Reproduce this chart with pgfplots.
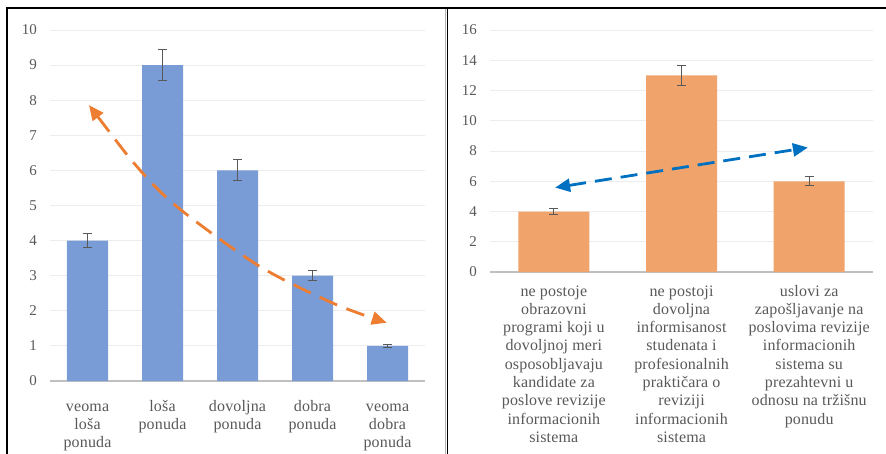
\documentclass[border=0pt]{standalone}
\usepackage{pgfplots}
\pgfplotsset{compat=1.18}
\usepackage{pgfplotstable}
\usepackage{fontspec}
\setmainfont{Liberation Serif}
\usetikzlibrary{arrows.meta}
\definecolor{barblue}{HTML}{7A9CD6}
\definecolor{barorange}{HTML}{F0A46C}
\definecolor{arrorange}{HTML}{ED7D31}
\definecolor{arrblue}{HTML}{0070C0}
\definecolor{txtgray}{HTML}{595959}
\definecolor{axgray}{HTML}{BFBFBF}
\definecolor{gridgray}{HTML}{EDEDED}

\pgfplotstableread{
x y e
0 4 0.2
1 9 0.45
2 6 0.3
3 3 0.15
4 1 0.04
}\lefttab
\pgfplotstableread{
x y e
0 4 0.2
1 13 0.65
2 6 0.3
}\righttab

\pgfplotsset{
  panel/.style={
    scale only axis,
    anchor=south west,
    enlargelimits=false,
    clip=false,
    axis x line*=bottom,
    axis y line*=left,
    y axis line style={draw=none},
    x axis line style={draw=axgray, line width=2bp},
    xtick style={draw=none},
    ytick style={draw=none},
    ymajorgrids,
    grid style={draw=gridgray, line width=1bp},
    tick label style={font=\fontsize{15bp}{18.3bp}\selectfont, text=txtgray},
    /pgf/number format/assume math mode=true,
    y tick label style={anchor=east, inner sep=0pt, xshift=-13bp},
    x tick label style={anchor=north, align=center, inner sep=0pt,
      font=\fontsize{16bp}{18.3bp}\selectfont\addfontfeatures{LetterSpace=1}},
    xtick=data,
  },
  errs/.style={
    error bars/.cd, y dir=both, y explicit,
    error bar style={line width=1bp, color=txtgray},
    error mark options={line width=1bp, color=txtgray, mark size=4.5bp, rotate=90},
  },
}

\begin{document}
\begin{tikzpicture}
\useasboundingbox (0,0) rectangle (886bp,-454bp);
\fill[white] (0,0) rectangle (886bp,-454bp);

\begin{axis}[panel,
  at={(50bp,-381bp)},
  width=375bp, height=351bp,
  xmin=-0.5, xmax=4.5, ymin=0, ymax=10,
  ytick={0,1,...,10},
  xticklabels={{\strut veoma\\loša\\ponuda},{\strut loša\\ponuda},{\strut dovoljna\\ponuda},{\strut dobra\\ponuda},{\strut veoma\\dobra\\ponuda}},
  x tick label style={yshift=-17bp},
]
\addplot[ybar, bar width=41bp, fill=barblue, draw=none, errs]
  table[x=x, y=y, y error=e]{\lefttab};
\addplot[smooth, dash pattern=on 19bp off 10bp, line width=2.8bp, color=arrorange,
  {Triangle[length=15bp,width=13bp]}-{Triangle[length=15bp,width=13bp]}]
  coordinates {(0.02,7.86) (0.72,5.96) (1.26,4.85) (2.3,3.26) (3.28,2.21) (3.99,1.66)};
\end{axis}

\begin{axis}[panel,
  at={(490bp,-272bp)},
  width=383bp, height=242bp,
  xmin=-0.5, xmax=2.5, ymin=0, ymax=16,
  ytick={0,2,...,16},
  xticklabels={{\strut ne postoje\\obrazovni\\programi koji u\\dovoljnoj meri\\osposobljavaju\\kandidate za\\poslove revizije\\informacionih\\sistema},
    {\strut ne postoji\\dovoljna\\informisanost\\studenata i\\profesionalnih\\praktičara o\\reviziji\\informacionih\\sistema},
    {\strut uslovi za\\zapošljavanje na\\poslovima revizije\\informacionih\\sistema su\\prezahtevni u\\odnosu na tržišnu\\ponudu}},
  x tick label style={yshift=-11bp},
]
\addplot[ybar, bar width=71bp, fill=barorange, draw=none, errs]
  table[x=x, y=y, y error=e]{\righttab};
\addplot[dash pattern=on 17bp off 9bp, line width=2.8bp, color=arrblue,
  {Triangle[length=15bp,width=13bp]}-{Triangle[length=15bp,width=13bp]}]
  coordinates {(0.01,5.58) (1.99,8.23)};
\end{axis}

\draw[black, line width=1.5bp] (7bp,-454bp) -- (7bp,-8bp) -- (886bp,-8bp);
\draw[black, line width=1.5bp] (447.5bp,-8bp) -- (447.5bp,-454bp);
\draw[gray!60, line width=0.6bp] (445.3bp,-9bp) -- (445.3bp,-454bp);
\end{tikzpicture}
\end{document}
